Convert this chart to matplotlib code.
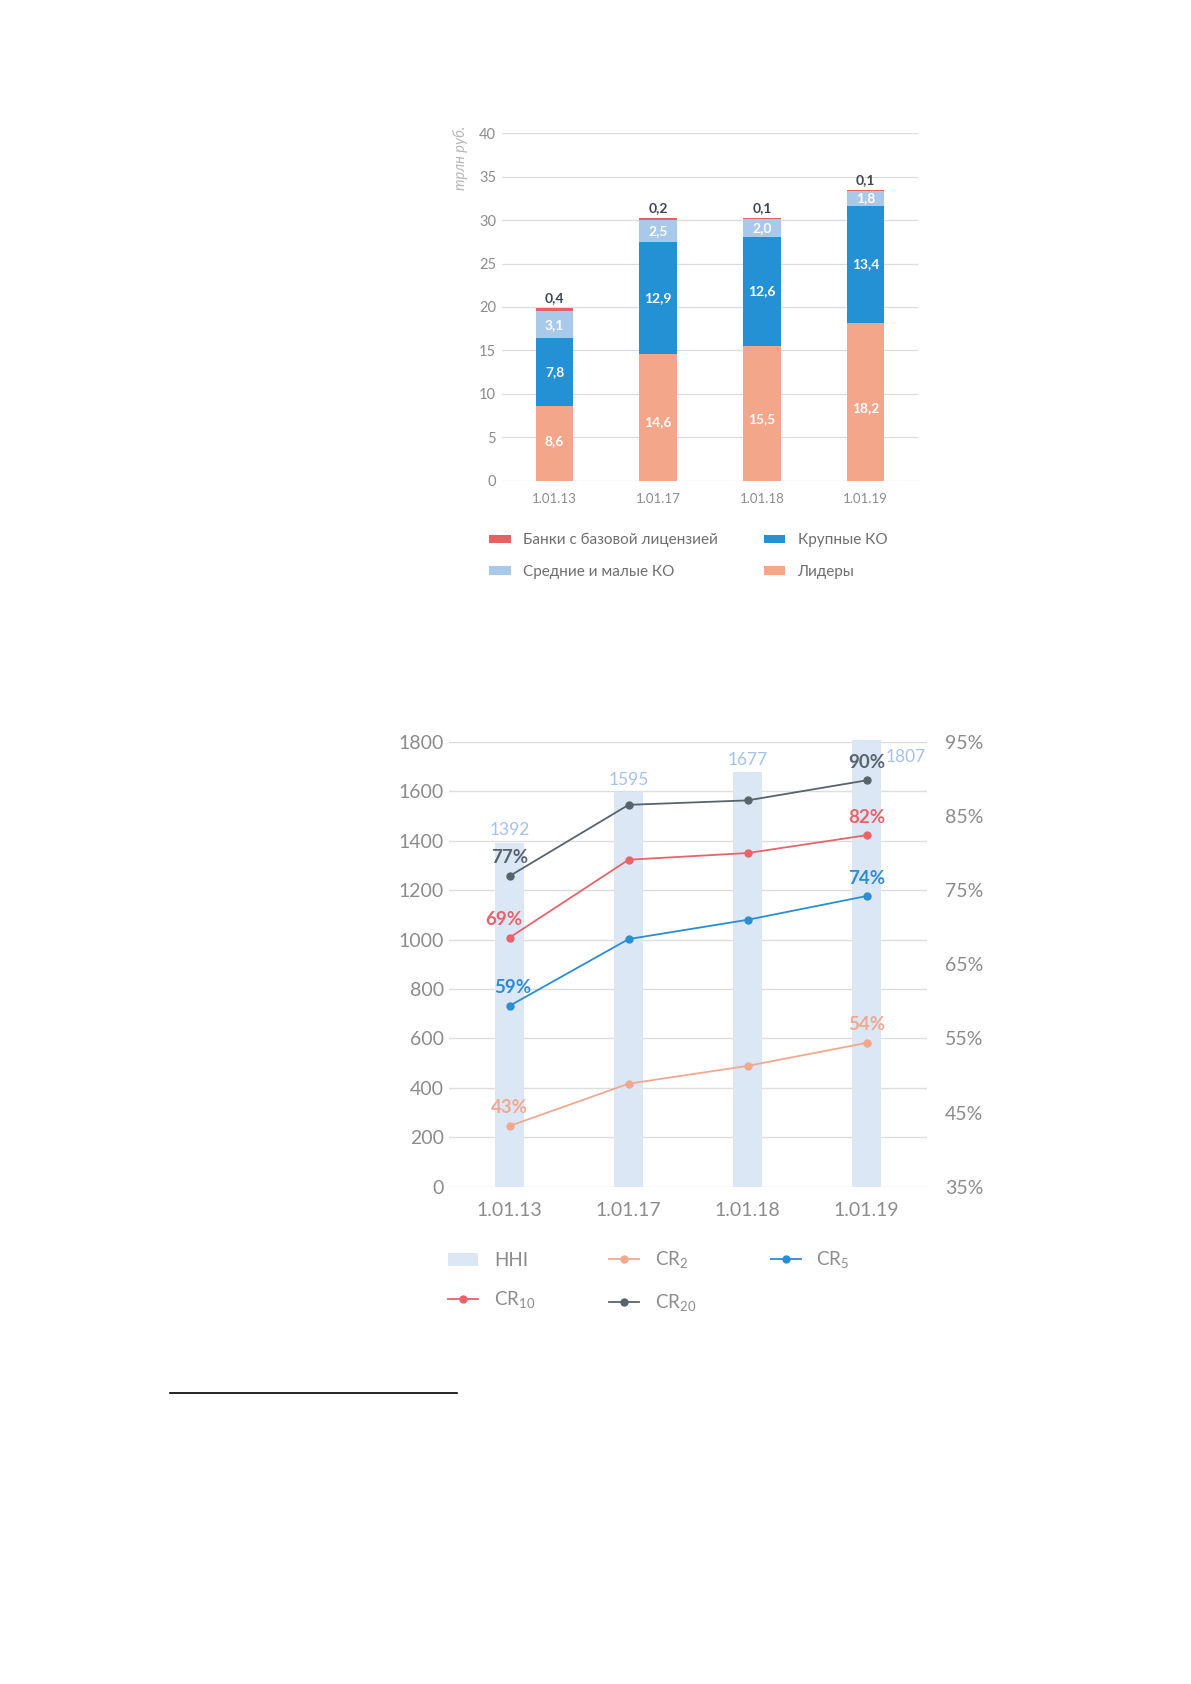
import matplotlib.pyplot as plt
from matplotlib.lines import Line2D

plt.rcParams['font.family'] = ['Lato', 'Open Sans', 'DejaVu Sans']
plt.rcParams['mathtext.fontset'] = 'custom'
plt.rcParams['mathtext.rm'] = 'Lato'

# --- data: chart 1 (trillion rub.)
dates = ["1.01.13", "1.01.17", "1.01.18", "1.01.19"]
leaders = [8.6, 14.6, 15.5, 18.2]
large = [7.8, 12.9, 12.6, 13.4]
mid_small = [3.1, 2.5, 2.0, 1.8]
basic = [0.4, 0.2, 0.1, 0.1]

# --- data: chart 2
hhi = [1392, 1595, 1677, 1807]
cr2 = [43.2, 48.9, 51.3, 54.4]
cr5 = [59.4, 68.4, 71.0, 74.2]
cr10 = [68.6, 79.1, 80.0, 82.4]
cr20 = [76.9, 86.5, 87.1, 89.8]
cr_labels = {"cr2": ["43%", "54%"], "cr5": ["59%", "74%"],
             "cr10": ["69%", "82%"], "cr20": ["77%", "90%"]}

C_LEAD = "#F3A68A"
C_LARGE = "#2491D5"
C_MID = "#A9C9EB"
C_BASIC = "#E8605F"
C_GRID = "#DDDDDD"
C_TICK = "#8C8C8C"

W, H = 1191, 1684
fig = plt.figure(figsize=(W / 100, H / 100), dpi=100)


def frac(l, t, r, b):
    return [l / W, 1 - b / H, (r - l) / W, (b - t) / H]


# ================= chart 1 =================
ax = fig.add_axes(frac(501.7, 133.3, 918.3, 480.7))
x = range(len(dates))
bw = 0.364
b1 = ax.bar(x, leaders, bw, color=C_LEAD, zorder=2)
bot = leaders
b2 = ax.bar(x, large, bw, bottom=bot, color=C_LARGE, zorder=2)
bot = [a + b for a, b in zip(bot, large)]
b3 = ax.bar(x, mid_small, bw, bottom=bot, color=C_MID, zorder=2)
bot = [a + b for a, b in zip(bot, mid_small)]
b4 = ax.bar(x, basic, bw, bottom=bot, color=C_BASIC, zorder=2)
tops = [a + b for a, b in zip(bot, basic)]

fmt = lambda v: f"{v:.1f}".replace(".", ",")
lbl = dict(ha="center", va="center", color="white", fontsize=10,
           fontweight="bold", zorder=3)
for i in x:
    ax.text(i, leaders[i] * (0.53 if i == 0 else 0.46), fmt(leaders[i]), **lbl)
    ax.text(i, leaders[i] + large[i] / 2, fmt(large[i]), **lbl)
    ax.text(i, leaders[i] + large[i] + mid_small[i] / 2, fmt(mid_small[i]), **lbl)
    ax.annotate(fmt(basic[i]), (i, tops[i]), xytext=(0, 3),
                textcoords="offset points", ha="center", va="bottom",
                color="#3E4650", fontsize=10, fontweight="bold")

ax.set_xlim(-0.51, 3.51)
ax.set_ylim(0, 40)
ax.set_yticks(range(0, 41, 5))
ax.set_xticks(list(x))
ax.set_xticklabels(dates)
ax.tick_params(axis="y", length=0, pad=4, labelsize=10.5, labelcolor=C_TICK)
ax.tick_params(axis="x", length=0, pad=9, labelsize=9.5, labelcolor=C_TICK)
ax.grid(axis="y", color=C_GRID, lw=0.9, zorder=0)
for s in ax.spines.values():
    s.set_visible(False)
ax.text(-0.1, 0.929, "трлн руб.", rotation=90, ha="center", va="center",
        transform=ax.transAxes, color="#B5B5B5", fontsize=10.5, style="italic")

fig.legend([b4, b3, b2, b1],
           ["Банки с базовой лицензией", "Средние и малые КО",
            "Крупные КО", "Лидеры"],
           ncol=2, loc="upper left", bbox_to_anchor=(489 / W, 1 - 533 / H),
           frameon=False, fontsize=11, handlelength=1.42,
           handleheight=0.46, handletextpad=0.8, labelspacing=1.15,
           columnspacing=3.0, borderpad=0, borderaxespad=0,
           labelcolor="#6E6E6E")

# ================= chart 2 =================
ax2 = fig.add_axes(frac(449.4, 741.8, 926.7, 1186.8))
bars = ax2.bar(x, hhi, 0.244, color="#DCE7F5", zorder=2, clip_on=False)
for i in x:
    if i < 3:
        ax2.annotate(str(hhi[i]), (i, hhi[i]), xytext=(0, 3),
                     textcoords="offset points", ha="center", va="bottom",
                     color="#A5C2E8", fontsize=12.5)
    else:
        ax2.annotate(str(hhi[i]), (i, hhi[i]), xytext=(28, -12),
                     textcoords="offset points", ha="center", va="center",
                     color="#A5C2E8", fontsize=12.5, annotation_clip=False)
ax2.set_xlim(-0.506, 3.506)
ax2.set_ylim(0, 1800)
ax2.set_yticks(range(0, 1801, 200))
ax2.set_xticks(list(x))
ax2.set_xticklabels(dates)
ax2.tick_params(axis="y", length=0, pad=4, labelsize=14, labelcolor=C_TICK)
ax2.tick_params(axis="x", length=0, pad=11, labelsize=14, labelcolor=C_TICK)
ax2.grid(axis="y", color=C_GRID, lw=1.0, zorder=0)
for s in ax2.spines.values():
    s.set_visible(False)

ax3 = ax2.twinx()
ax3.set_ylim(35, 95)
ax3.set_yticks(range(35, 96, 10))
ax3.set_yticklabels([f"{v}%" for v in range(35, 96, 10)])
ax3.tick_params(axis="y", length=0, pad=13, labelsize=14, labelcolor=C_TICK)
for s in ax3.spines.values():
    s.set_visible(False)

series = [("cr2", cr2, "#F2A88E"), ("cr5", cr5, "#2A8ED3"),
          ("cr10", cr10, "#E8636A"), ("cr20", cr20, "#59636C")]
handles = {}
for key, vals, col in series:
    (ln,) = ax3.plot(list(x), vals, color=col, lw=1.3, marker="o", ms=5,
                     zorder=3)
    handles[key] = ln
    for j, idx in enumerate([0, 3]):
        dx = 0
        if idx == 0 and key == "cr10":
            dx = -4
        elif idx == 0 and key == "cr5":
            dx = 2
        ax3.annotate(cr_labels[key][j], (idx, vals[idx]), xytext=(dx, 13),
                     textcoords="offset points", ha="center", va="center",
                     color=col, fontsize=13.5, fontweight="bold")

fig.legend([bars, handles["cr10"], handles["cr2"], handles["cr20"],
            handles["cr5"]],
           ["HHI", r"CR$_{\mathrm{10}}$", r"CR$_{\mathrm{2}}$",
            r"CR$_{\mathrm{20}}$", r"CR$_{\mathrm{5}}$"],
           ncol=3, loc="upper left", bbox_to_anchor=(448 / W, 1 - 1250 / H),
           frameon=False, fontsize=13.5, handlelength=1.6,
           handleheight=0.7, handletextpad=0.85, labelspacing=1.12,
           columnspacing=3.95, borderpad=0, borderaxespad=0,
           labelcolor="#8C8C8C")

# footnote separator
fig.add_artist(Line2D([170 / W, 457 / W], [1 - 1393 / H, 1 - 1393 / H],
                      color="black", lw=1.2))

fig.savefig("out.png", dpi=100, facecolor="white")
